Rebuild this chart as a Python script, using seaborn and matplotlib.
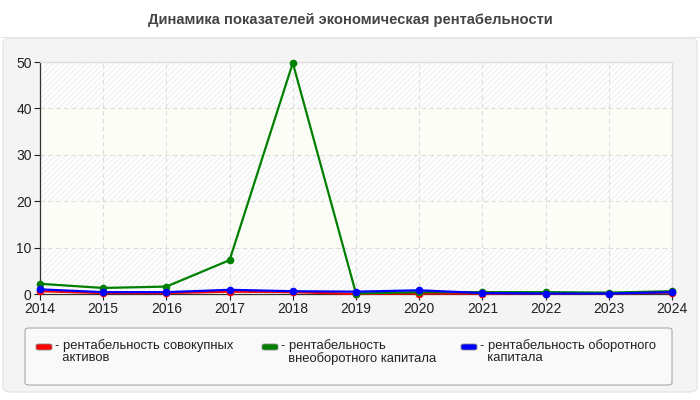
import matplotlib
matplotlib.use("Agg")
import matplotlib.pyplot as plt
from matplotlib.patches import FancyBboxPatch
import seaborn as sns
import pandas as pd

years = [2014, 2015, 2016, 2017, 2018, 2019, 2020, 2021, 2022, 2023, 2024]
series_names = ["рентабельность совокупных активов",
                "рентабельность внеоборотного капитала",
                "рентабельность оборотного капитала"]
legend_labels = ["- рентабельность совокупных\n  активов",
                 "- рентабельность\n  внеоборотного капитала",
                 "- рентабельность оборотного\n  капитала"]
red_vals = [0.6, 0.2, 0.2, 0.5, 0.4, 0.0, 0.1, 0.1, 0.1, 0.1, 0.3]
green_vals = [2.2, 1.3, 1.6, 7.3, 49.8, 0.1, 0.4, 0.4, 0.4, 0.3, 0.6]
blue_vals = [1.0, 0.4, 0.4, 0.9, 0.6, 0.5, 0.8, 0.2, 0.1, 0.1, 0.4]
colors = ["#ff0000", "#008000", "#0000ff"]
title = "Динамика показателей экономическая рентабельности"

sns.set_theme(style="white")
plt.rcParams["font.family"] = ["Liberation Sans", "DejaVu Sans"]

df = pd.DataFrame({
    "year": years * 3,
    "value": red_vals + green_vals + blue_vals,
    "series": [series_names[0]] * 11 + [series_names[1]] * 11 + [series_names[2]] * 11,
})

fig = plt.figure(figsize=(7, 4), dpi=100)
fig.patch.set_facecolor("white")

W, H = 700, 400
def fx(px): return px / W
def fy(py): return 1 - py / H

panel = FancyBboxPatch((fx(3), fy(392)), fx(694), (392 - 38) / H,
                       boxstyle="round,pad=0,rounding_size=0.012",
                       transform=fig.transFigure, facecolor="#f4f4f4",
                       edgecolor="#e2e2e2", linewidth=0.8, zorder=-5)
fig.add_artist(panel)
fig.add_artist(plt.Line2D([0, 1], [fy(37), fy(37)], color="#e6e6e6", lw=0.8,
                          transform=fig.transFigure, zorder=-4))

fig.text(0.5, fy(20), title, ha="center", va="center", fontsize=10.6,
         fontweight="bold", color="#444444")

ax = fig.add_axes([fx(40), fy(294), fx(632), (294 - 62) / H])
ax.set_zorder(2)
ax.set_facecolor("white")
for i, (lo, hi) in enumerate([(0, 10), (10, 20), (20, 30), (30, 40), (40, 50)]):
    if i % 2 == 0:
        ax.axhspan(lo, hi, facecolor="white", edgecolor="#f2f2f2", hatch="//////",
                   linewidth=0, zorder=0)
    else:
        ax.axhspan(lo, hi, facecolor="#fcfdf6", linewidth=0, zorder=0)

sns.lineplot(data=df, x="year", y="value", hue="series", palette=colors,
             marker="o", markersize=5.5, markeredgewidth=0, linewidth=1.6,
             ax=ax, legend=False, zorder=3)
for ln in ax.lines:
    ln.set_clip_on(False)

ax.set_xlim(2014, 2024)
ax.set_ylim(0, 50)
ax.set_xticks(years)
ax.set_xticklabels([str(y) for y in years])
ax.set_yticks([0, 10, 20, 30, 40, 50])
ax.set_xlabel("")
ax.set_ylabel("")
ax.grid(True, color="#dddddd", linestyle=(0, (4, 3)), linewidth=0.8)
ax.set_axisbelow(True)
ax.tick_params(axis="both", labelsize=10, colors="#222222", length=4,
               width=0.8, direction="out", pad=2)
ax.tick_params(axis="x", bottom=True)
ax.tick_params(axis="y", left=True)
ax.spines["left"].set_color("#333333")
ax.spines["bottom"].set_color("#333333")
ax.spines["right"].set_color("#dddddd")
ax.spines["top"].set_color("#dddddd")
for s in ax.spines.values():
    s.set_linewidth(0.9)

lbox = FancyBboxPatch((fx(25), fy(385)), fx(647), (385 - 328) / H,
                      boxstyle="round,pad=0,rounding_size=0.006",
                      transform=fig.transFigure, facecolor="#f9f9f9",
                      edgecolor="#aaaaaa", linewidth=0.8, zorder=1)
fig.add_artist(lbox)
xs = [36, 262, 461]
for x0, lab, c in zip(xs, legend_labels, colors):
    sw = FancyBboxPatch((fx(x0), fy(350)), fx(16), 6 / H,
                        boxstyle="round,pad=0,rounding_size=0.004",
                        transform=fig.transFigure, facecolor=c,
                        edgecolor="#888888", linewidth=0.6, zorder=2)
    fig.add_artist(sw)
    fig.text(fx(x0 + 19), fy(339), lab, ha="left", va="top", fontsize=9.4,
             color="#222222", linespacing=1.05, zorder=3)

fig.savefig("out.png", dpi=100, facecolor="white")
